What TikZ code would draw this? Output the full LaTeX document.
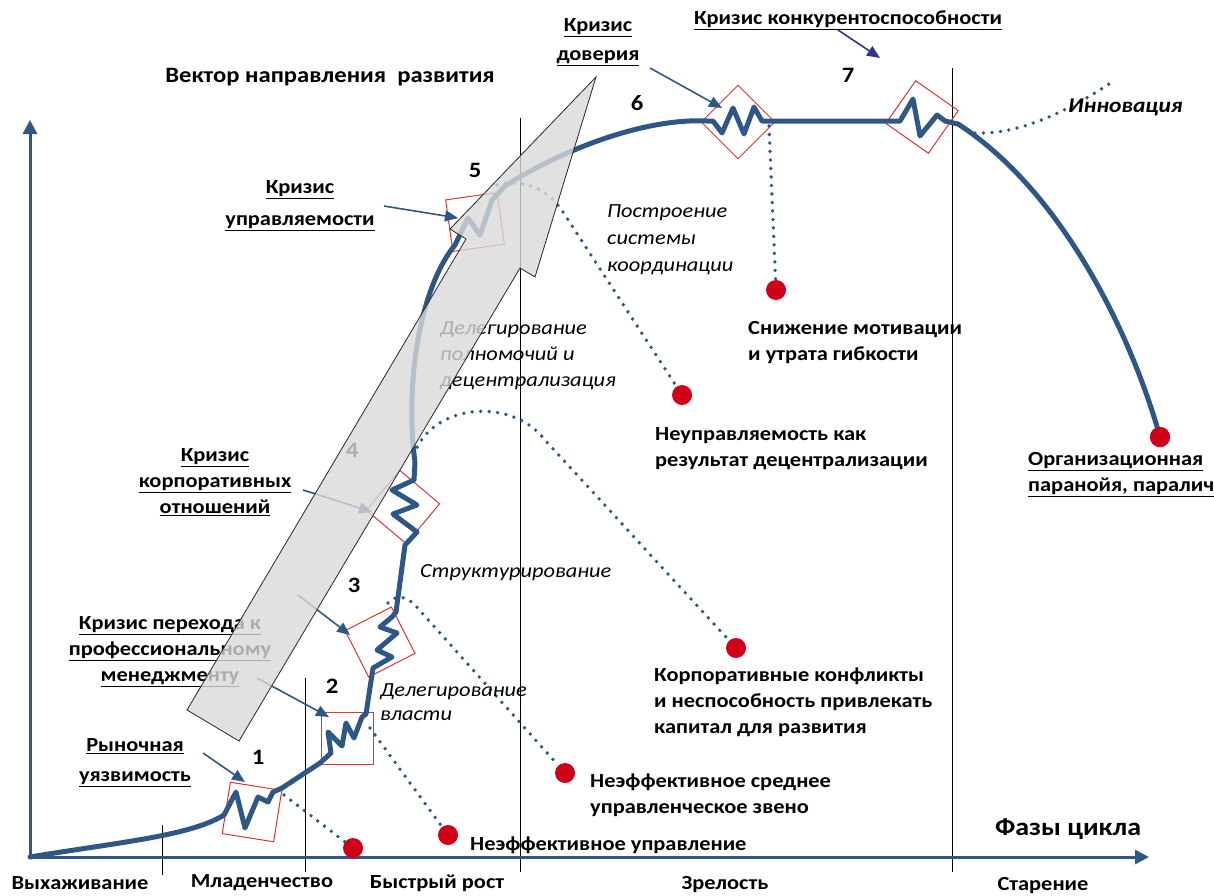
\documentclass[tikz,border=0pt]{standalone}
\usepackage{fontspec}
\setmainfont{Carlito}[FakeStretch=1.12]
\usetikzlibrary{arrows.meta}
\definecolor{cb}{RGB}{47,87,133}
\definecolor{cr}{RGB}{208,0,24}
\definecolor{bx}{RGB}{226,50,50}
\definecolor{ind}{RGB}{50,50,150}
\tikzset{
  curve/.style={draw=cb, line width=5pt, line join=round, line cap=round},
  dots/.style={draw=cb, line width=3.8pt, line cap=round, dash pattern=on 0pt off 8.5pt},
  crisis/.style={draw=bx, line width=1pt, minimum size=52pt, inner sep=0pt, shape=rectangle},
  ptr/.style={draw=cb, line width=1.6pt, -{Triangle[length=13pt,width=11pt]}},
  rdot/.style={circle, fill=cr, minimum size=20pt, inner sep=0pt},
  vline/.style={draw=black, line width=1pt},
  axis/.style={draw=cb, line width=3pt, -{Triangle[length=14pt,width=14pt]}},
  lbl/.style={font=\bfseries\fontsize{20}{26}\selectfont, inner sep=0pt},
  ital/.style={font=\itshape\fontsize{20}{27}\selectfont, inner sep=0pt},
  num/.style={font=\bfseries\fontsize{22}{26}\selectfont, inner sep=0pt},
}
\begin{document}
\begin{tikzpicture}[x=1pt,y=-1pt]
\useasboundingbox (0,0) rectangle (1214,895);
% thin vertical phase lines
\draw[vline] (162,825) -- (162,875);
\draw[vline] (305,678) -- (305,872);
\draw[vline] (520,118) -- (520,872);
\draw[vline] (952,68) -- (952,872);
% axes
\coordinate (o) at (30,857);
\coordinate (ytop) at (30,120);
\coordinate (xend) at (1149,857);
\draw[axis] (o) -- (ytop);
\draw[axis] (o) -- (xend);
% crisis boxes
\node[crisis, rotate=-9] (b1) at (252,812) {};
\node[crisis] (b2) at (347,738) {};
\node[crisis, rotate=27] (b3) at (380,642) {};
\node[crisis, rotate=50] (b4) at (403,507) {};
\node[crisis, rotate=8] (b5) at (475,222) {};
\node[crisis, rotate=45] (b6) at (738,122) {};
\node[crisis, rotate=55] (b7) at (922,117) {};
% red dots
\node[rdot] (d1) at (353,848) {};
\node[rdot] (d2) at (448,835) {};
\node[rdot] (d3) at (565,773) {};
\node[rdot] (d4) at (736,648) {};
\node[rdot] (d5) at (682,395) {};
\node[rdot] (d6) at (776,290) {};
% dotted lines
\coordinate (s1) at (284,795);
\coordinate (s2) at (370,728);
\coordinate (s3) at (388,603);
\coordinate (s4) at (414,455);
\coordinate (s5) at (497,185);
\coordinate (s6) at (769,126);
\coordinate (s7) at (975,133);
\coordinate (inn) at (1112,82);
\draw[dots] (s1) -- (d1);
\draw[dots] (s2) -- (d2);
\draw[dots] (s3) .. controls (395,595) and (405,595) .. (415,605) -- (d3);
\draw[dots] (s4) .. controls (430,405) and (510,395) .. (545,440) -- (d4);
\draw[dots] (s5) .. controls (525,178) and (550,190) .. (565,215) -- (d5);
\draw[dots] (s6) -- (d6);
\draw[dots] (s7) .. controls (1020,135) and (1070,110) .. (inn);
% main curve
\node[rdot] (d7) at (1160,437) {};
\draw[curve] (o) .. controls (120,842) and (190,836) .. (224,815) -- (236,792) -- (245,828) -- (258,797) -- (268,802) -- (273,792) -- (282,788)
 -- (320,763) -- (331,753) -- (328,732) -- (342,746) -- (346,723) -- (354,738) -- (362,717) -- (366,714)
 -- (373,668) -- (392,657) -- (377,650) -- (397,633) -- (380,627) -- (392,617) -- (396,612)
 -- (405,545) -- (417,532) -- (393,514) -- (417,505) -- (392,490) -- (414,480) -- (415,462)
 .. controls (405,390) and (418,290) .. (455,245) -- (468,218) -- (480,235) -- (492,200) -- (505,186)
 .. controls (570,145) and (650,118) .. (707,121) -- (713,121) -- (722,133) -- (733,108) -- (744,134) -- (754,107) -- (762,121)
 -- (888,121) -- (900,121) -- (913,99) -- (920,136) -- (937,115) -- (945,121) -- (958,124)
 .. controls (1060,190) and (1130,330) .. (d7.center);
\node[rdot] at (d7) {};
% pointer arrows
\coordinate (a1) at (203,753); \coordinate (e1) at (245,782);
\coordinate (a2) at (257,678); \coordinate (e2) at (329,717);
\coordinate (a3) at (298,595); \coordinate (e3) at (350,635);
\coordinate (a4) at (303,490); \coordinate (e4) at (372,512);
\coordinate (a5) at (384,206); \coordinate (e5) at (458,218);
\coordinate (a6) at (650,68);  \coordinate (e6) at (722,108);
\coordinate (a7) at (838,30);  \coordinate (e7) at (880,58);
\draw[ptr] (a1) -- (e1);
\draw[ptr] (a2) -- (e2);
\draw[ptr] (a3) -- (e3);
\draw[ptr] (a4) -- (e4);
\draw[ptr] (a5) -- (e5);
\draw[ptr] (a6) -- (e6);
\draw[ptr, draw=ind] (a7) -- (e7);
% labels
\node[lbl, align=center] (t1) at (135,763) {\underline{Рыночная}\\[4pt]\underline{уязвимость}};
\node[lbl, align=center] (t2) at (170,652) {\underline{Кризис перехода к}\\\underline{профессиональному}\\\underline{менеджменту}};
\node[lbl, align=center] (t4) at (215,482) {\underline{Кризис}\\\underline{корпоративных}\\\underline{отношений}};
\node[lbl, align=center] (t5) at (300,206) {\underline{Кризис}\\[6pt]\underline{управляемости}};
\node[lbl, align=center] (t6) at (598,42) {\underline{Кризис}\\[3pt]\underline{доверия}};
\node[lbl] (t7) at (848,20) {\underline{Кризис конкурентоспособности}};
\node[lbl, font=\bfseries\fontsize{22}{26}\selectfont] (vec) at (330,77) {Вектор направления\ \ развития};
\node[num] (n1) at (258,757) {1};
\node[num] (n2) at (332,686) {2};
\node[num] (n3) at (354,585) {3};
\node[num] (n4) at (352,450) {4};
\node[num] (n5) at (475,170) {5};
\node[num] (n6) at (637,103) {6};
\node[num] (n7) at (848,75) {7};
\node[ital, align=left, anchor=west] (i1) at (607,240) {Построение\\системы\\координации};
\node[ital, align=left, anchor=west, font=\itshape\fontsize{20}{26}\selectfont] (i2) at (440,356) {Делегирование\\полномочий и\\децентрализация};
\node[ital, anchor=west] (i3) at (420,573) {Структурирование};
\node[ital, align=left, anchor=west, font=\itshape\fontsize{20}{24}\selectfont] (i4) at (380,702) {Делегирование\\власти};
\node[lbl, anchor=west] (r1) at (470,845) {Неэффективное управление};
\node[lbl, align=left, anchor=west] (r2) at (590,795) {Неэффективное среднее\\управленческое звено};
\node[lbl, align=left, anchor=west] (r3) at (654,702) {Корпоративные конфликты\\и неспособность привлекать\\капитал для развития};
\node[lbl, align=left, anchor=west] (r4) at (655,449) {Неуправляемость как\\результат децентрализации};
\node[lbl, align=left, anchor=west] (r5) at (748,343) {Снижение мотивации\\и утрата гибкости};
\node[lbl, align=left, anchor=west] (r6) at (1028,475) {\underline{Организационная}\\\underline{паранойя, паралич}};
\node[lbl, anchor=west, font=\bfseries\itshape\fontsize{21}{26}\selectfont] (inv) at (1068,107) {Инновация};
\node[lbl, font=\bfseries\fontsize{25}{26}\selectfont] (fz) at (1068,829) {Фазы цикла};
\node[lbl] (ph1) at (80,883) {Выхаживание};
\node[lbl] (ph2) at (262,883) {Младенчество};
\node[lbl] (ph3) at (437,883) {Быстрый рост};
\node[lbl] (ph4) at (725,885) {Зрелость};
\node[lbl] (ph5) at (1043,885) {Старение};
% big direction arrow (semi-transparent, on top)
\path[fill=gray!30, fill opacity=0.8, draw=black!85, line width=0.8pt]
  (187,710) -- (466,239) -- (450,229) -- (596,77) -- (535,277) -- (520,268) -- (239,741) -- cycle;
\end{tikzpicture}
\end{document}
